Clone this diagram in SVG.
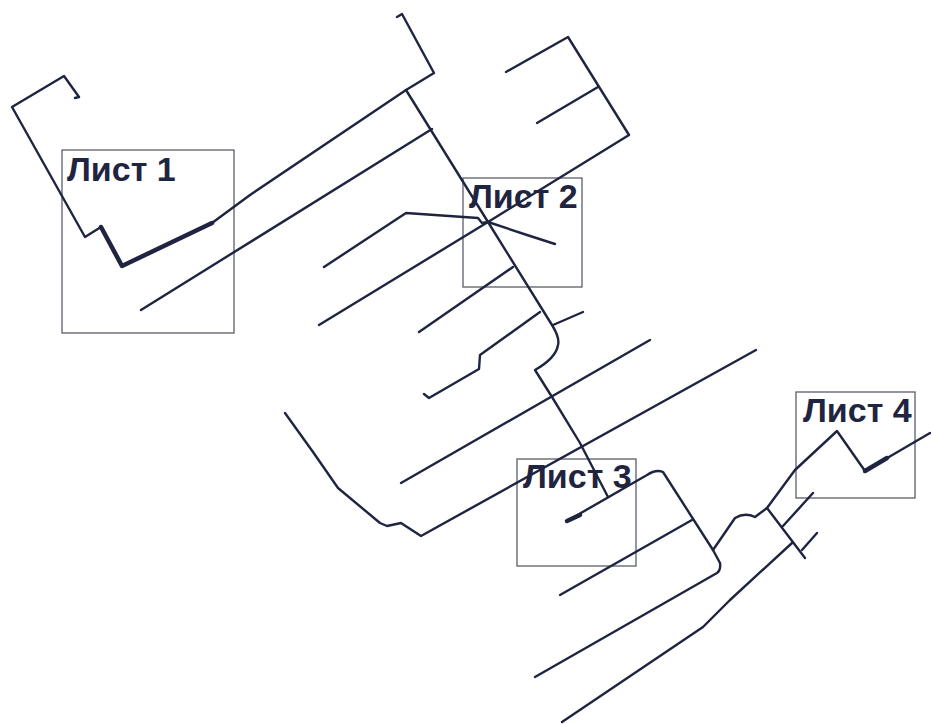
<svg xmlns="http://www.w3.org/2000/svg" width="931" height="724" viewBox="0 0 931 724">
<style>
.s{fill:none;stroke:#1f2540;stroke-width:2.4;stroke-linejoin:round;stroke-linecap:round}
.h{stroke-width:4.5}
.b{fill:none;stroke:#5a5f6a;stroke-width:1.3}
.t{font-family:"Liberation Sans",Arial,sans-serif;font-weight:700;font-size:34px;fill:#1f2540}
</style>
<rect width="931" height="724" fill="#fff"/>
<g id="sheet-1"><rect class="b" x="62" y="150" width="172" height="183"/><text class="t" x="67" y="181">Лист 1</text></g>
<g id="sheet-2"><rect class="b" x="463" y="178" width="119" height="109"/><text class="t" x="469" y="208">Лист 2</text></g>
<g id="sheet-3"><rect class="b" x="517" y="459" width="119" height="107"/><text class="t" x="523" y="488">Лист 3</text></g>
<g id="sheet-4"><rect class="b" x="796" y="392" width="119" height="106"/><text class="t" x="803" y="422">Лист 4</text></g>
<g id="connectors">
<path class="s" d="M75 98L79 97L64 76L12 107L85 237L101 227L122 266L212 223L250 195L406 90L434 73L402 14L397 17"/>
<path class="s h" d="M101 227L122 266L212 223"/>
<path class="s" d="M406 90L488 222L552 325Q560 338 558 345Q556 358 535 370L552 397L580 443L608 497"/>
<path class="s" d="M141 310L432 129"/>
<path class="s" d="M506 72L568 37L629 135L488 222L319 325"/>
<path class="s" d="M537 123L598 87"/>
<path class="s" d="M324 267L406 213L478 218L482 223L488 222L527 235L555 244"/>
<path class="s" d="M419 332L513 267"/>
<path class="s" d="M424 394L429 398L479 369L480 355L540 312"/>
<path class="s" d="M553 325L583 312"/>
<path class="s" d="M401 483L650 340"/>
<path class="s" d="M285 413L313 452L338 488L380 523L387 526L401 523L421 536L756 350"/>
<path class="s" d="M567 521L647 475Q656 469 663 472L713 550L720 563Q721 570 717 573L535 677"/>
<path class="s" d="M560 595L692 520"/>
<path class="s h" d="M567 521L580 515"/>
<path class="s" d="M713 550L735 518Q745 512 755 517L767 508L795 470L837 431L865 471L930 433"/>
<path class="s h" d="M865 471L887 458"/>
<path class="s" d="M767 508L805 558"/>
<path class="s" d="M802 550L817 533"/>
<path class="s" d="M783 526L813 493"/>
<path class="s" d="M562 722L703 627L730 600L792 543"/>
</g>
</svg>
